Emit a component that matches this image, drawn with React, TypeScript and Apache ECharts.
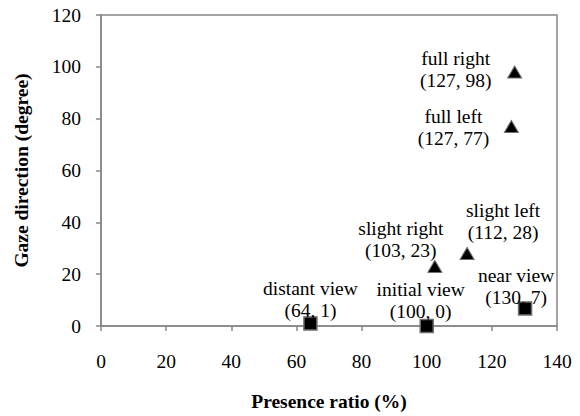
import React, { useEffect, useRef } from "react";
import * as echarts from "echarts";

// Gaze-change conditions (triangles)
const gazeNames = ["full right", "full left", "slight right", "slight left"];
const gazeX = [127, 126, 102.5, 112.4];
const gazeY = [98, 77, 23, 28];
const gazeTexts = ["(127, 98)", "(127, 77)", "(103, 23)", "(112, 28)"];

// View conditions (squares)
const viewNames = ["distant view", "initial view", "near view"];
const viewX = [64.3, 100, 130.2];
const viewY = [1, 0, 6.8];
const viewTexts = ["(64, 1)", "(100, 0)", "(130, 7)"];

// label offsets (layout only)
const gazeOffsets = [[-59, -3], [-58, 1], [-34, -27], [36, -32]];
const viewOffsets = [[0, -24], [-6, -26], [-9, -22]];

const xTicks = [0, 20, 40, 60, 80, 100, 120, 140];
const yTicks = [0, 20, 40, 60, 80, 100, 120];

const FONT = "'Liberation Serif', 'Times New Roman', serif";
const FS = 19.5;
const AXIS_COLOR = "#878787";

export default function App() {
  const ref = useRef<HTMLDivElement>(null);
  useEffect(() => {
    if (!ref.current) return;
    const chart = echarts.init(ref.current, null, { renderer: "svg" });
    const mk = (names: string[], xs: number[], ys: number[], texts: string[], offs: number[][]) =>
      names.map((n, i) => ({
        value: [xs[i], ys[i]],
        name: n,
        label: {
          show: true,
          position: "inside",
          offset: offs[i],
          formatter: n + "\n" + texts[i],
        },
      }));
    const labelStyle = {
      color: "#000",
      fontFamily: FONT,
      fontSize: FS,
      lineHeight: 22,
      align: "center",
      verticalAlign: "middle",
    };
    chart.setOption({
      animation: false,
      grid: {
        left: 101,
        right: 23,
        top: 15,
        bottom: 85,
        show: true,
        borderColor: AXIS_COLOR,
        borderWidth: 1.5,
        backgroundColor: "transparent",
      },
      xAxis: {
        type: "value",
        min: xTicks[0],
        max: xTicks[xTicks.length - 1],
        interval: 20,
        name: "Presence ratio (%)",
        nameLocation: "middle",
        nameGap: 65,
        nameTextStyle: { fontFamily: FONT, fontSize: FS, fontWeight: "bold", color: "#000" },
        axisLine: { show: true, lineStyle: { color: AXIS_COLOR, width: 1.5 } },
        axisTick: { show: true, length: 5, lineStyle: { color: AXIS_COLOR, width: 1.5 } },
        axisLabel: { fontFamily: FONT, fontSize: FS, color: "#000", margin: 25 },
        splitLine: { show: false },
      },
      yAxis: {
        type: "value",
        min: yTicks[0],
        max: yTicks[yTicks.length - 1],
        interval: 20,
        name: "Gaze direction (degree)",
        nameLocation: "middle",
        nameGap: 70,
        nameTextStyle: { fontFamily: FONT, fontSize: FS, fontWeight: "bold", color: "#000" },
        axisLine: { show: true, lineStyle: { color: AXIS_COLOR, width: 1.5 } },
        axisTick: { show: true, length: 5, lineStyle: { color: AXIS_COLOR, width: 1.5 } },
        axisLabel: { fontFamily: FONT, fontSize: FS, color: "#000", margin: 20 },
        splitLine: { show: false },
      },
      series: [
        {
          type: "scatter",
          symbol: "triangle",
          symbolSize: [14, 12],
          itemStyle: { color: "#000", borderColor: "#6e6e6e", borderWidth: 1, opacity: 1 },
          label: labelStyle,
          data: mk(gazeNames, gazeX, gazeY, gazeTexts, gazeOffsets),
        },
        {
          type: "scatter",
          symbol: "rect",
          symbolSize: 13,
          itemStyle: { color: "#000", borderColor: "#6e6e6e", borderWidth: 1.5, opacity: 1 },
          label: labelStyle,
          data: mk(viewNames, viewX, viewY, viewTexts, viewOffsets),
        },
      ],
    });
    return () => chart.dispose();
  }, []);
  return <div ref={ref} style={{ width: 580, height: 416, position: "absolute", left: 0, top: 0 }} />;
}
